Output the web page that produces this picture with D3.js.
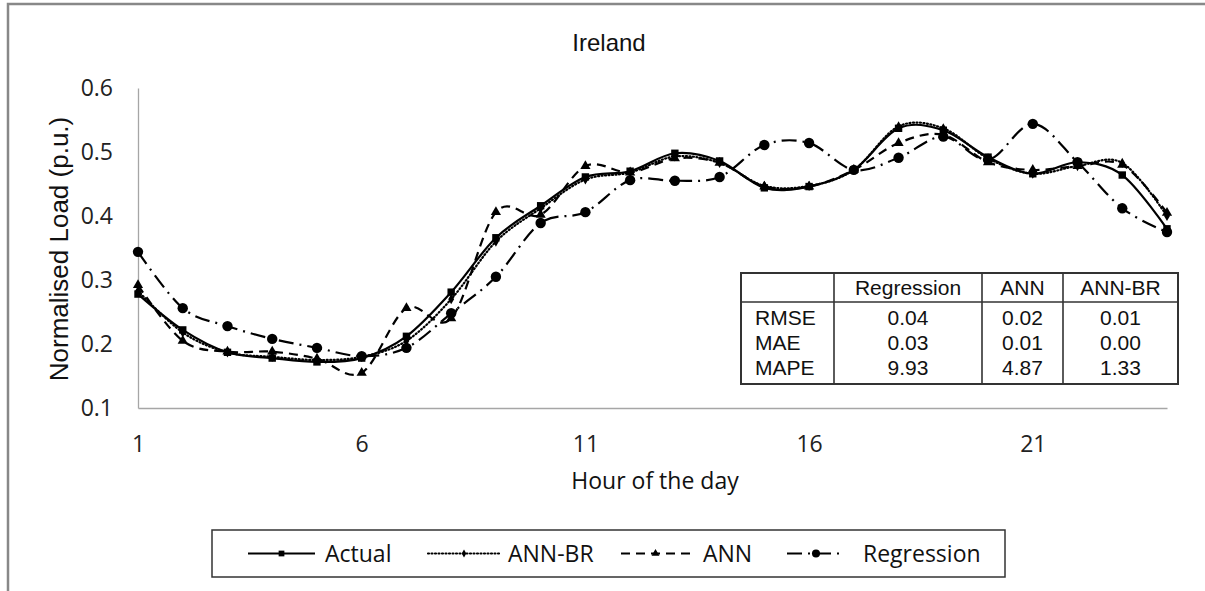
<!DOCTYPE html>
<html>
<head>
<meta charset="utf-8">
<script src="https://cdn.jsdelivr.net/npm/d3@7"></script>
<style>
  html, body { margin: 0; padding: 0; background: #fff; }
  svg { display: block; }
</style>
</head>
<body>
<svg id="chart"></svg>
<script>
// data
const hours = [1, 2, 3, 4, 5, 6, 7, 8, 9, 10, 11, 12, 13, 14, 15, 16, 17, 18, 19, 20, 21, 22, 23, 24];
const actual = [0.278, 0.222, 0.187, 0.178, 0.172, 0.178, 0.212, 0.281, 0.366, 0.416, 0.461, 0.470,
                0.498, 0.486, 0.444, 0.446, 0.472, 0.537, 0.534, 0.492, 0.466, 0.484, 0.464, 0.380];
const annBr = [0.283, 0.218, 0.187, 0.180, 0.175, 0.180, 0.205, 0.270, 0.360, 0.412, 0.457, 0.468,
               0.493, 0.483, 0.447, 0.447, 0.472, 0.540, 0.537, 0.490, 0.466, 0.478, 0.483, 0.400];
const ann = [0.292, 0.205, 0.188, 0.188, 0.177, 0.155, 0.256, 0.240, 0.406, 0.402, 0.478, 0.468,
             0.490, 0.483, 0.446, 0.446, 0.472, 0.514, 0.527, 0.484, 0.472, 0.478, 0.480, 0.405];
const regression = [0.344, 0.256, 0.228, 0.208, 0.194, 0.181, 0.194, 0.248, 0.305, 0.389, 0.406, 0.456,
                    0.455, 0.461, 0.511, 0.514, 0.472, 0.491, 0.524, 0.488, 0.544, 0.484, 0.412, 0.375];

const xTicks = [1, 6, 11, 16, 21];
const yTicks = [0.1, 0.2, 0.3, 0.4, 0.5, 0.6];

const tableCols = ["Regression", "ANN", "ANN-BR"];
const tableRows = ["RMSE", "MAE", "MAPE"];
const tableVals = [["0.04", "0.02", "0.01"],
                   ["0.03", "0.01", "0.00"],
                   ["9.93", "4.87", "1.33"]];

const seriesNames = ["Actual", "ANN-BR", "ANN", "Regression"];

// drawing
const W = 1205, H = 591;
let svg = d3.select("#chart").attr("width", W).attr("height", H);

const tickFont = "'Open Sans', sans-serif";
const arialFont = "'Liberation Sans', Arial, sans-serif";

const x = d3.scaleLinear().domain([1, 24]).range([138, 1167]);
const y = d3.scaleLinear().domain([0.1, 0.6]).range([408, 88]);

// outer frame (only left and top visible)
svg.append("path")
    .attr("d", `M8,${H} V4 H${W}`)
    .attr("fill", "none")
    .attr("stroke", "#888")
    .attr("stroke-width", 2.5);

// title
svg.append("text")
    .attr("x", 609).attr("y", 51)
    .attr("text-anchor", "middle")
    .style("font-family", arialFont)
    .style("font-size", "24px")
    .style("fill", "#111")
    .text("Ireland");

// axes
let yAxis = svg.append("g")
    .attr("transform", "translate(138,0)")
    .call(d3.axisLeft(y).tickValues(yTicks).tickSize(0).tickPadding(25).tickFormat(d3.format(".1f")));
let xAxis = svg.append("g")
    .attr("transform", "translate(0,408)")
    .call(d3.axisBottom(x).tickValues(xTicks).tickSize(0).tickPadding(28).tickFormat(d3.format("d")));

[yAxis, xAxis].forEach((g) => {
    g.select(".domain").attr("stroke", "#a6a6a6").attr("stroke-width", 1.3);
    g.selectAll("text")
        .style("font-family", tickFont)
        .style("font-size", "23px")
        .style("fill", "#222");
});

// axis titles
svg.append("text")
    .attr("transform", "translate(68,249) rotate(-90)")
    .attr("text-anchor", "middle")
    .style("font-family", arialFont)
    .style("font-size", "26px")
    .style("fill", "#111")
    .text("Normalised Load (p.u.)");

svg.append("text")
    .attr("x", 655).attr("y", 489)
    .attr("text-anchor", "middle")
    .style("font-family", tickFont)
    .style("font-size", "23px")
    .style("fill", "#111")
    .text("Hour of the day");

// series styles
const styles = {
    "Actual": { dash: null, width: 2.2, marker: d3.symbolSquare, size: 55, cap: "butt" },
    "ANN-BR": { dash: "1,2.5", width: 2.2, marker: d3.symbolDiamond, size: 30, cap: "round" },
    "ANN": { dash: "9,6", width: 2.2, marker: d3.symbolTriangle, size: 45, cap: "butt" },
    "Regression": { dash: "15,6,2,6", width: 2.2, marker: d3.symbolCircle, size: 85, cap: "butt" }
};
const values = {
    "Actual": actual,
    "ANN-BR": annBr,
    "ANN": ann,
    "Regression": regression
};

const line = d3.line()
    .x((d) => x(d[0]))
    .y((d) => y(d[1]))
    .curve(d3.curveCardinal.tension(0));

let plot = svg.append("g");
seriesNames.slice().reverse().forEach((name) => {
    let st = styles[name];
    let pts = hours.map((h, i) => [h, values[name][i]]);
    plot.append("path")
        .attr("d", line(pts))
        .attr("fill", "none")
        .attr("stroke", "#000")
        .attr("stroke-width", st.width)
        .attr("stroke-linecap", st.cap)
        .attr("stroke-dasharray", st.dash);
    plot.append("g")
        .selectAll("path")
        .data(pts)
        .join("path")
        .attr("transform", (d) => `translate(${x(d[0])},${y(d[1])})`)
        .attr("d", d3.symbol().type(st.marker).size(st.size))
        .attr("fill", "#000");
});

// error table
const tb = { x0: 741, x1: 1178, y0: 273, yh: 302, y1: 384, cols: [834, 982, 1063] };
let table = svg.append("g");
table.append("rect")
    .attr("x", tb.x0).attr("y", tb.y0)
    .attr("width", tb.x1 - tb.x0).attr("height", tb.y1 - tb.y0)
    .attr("fill", "#fff")
    .attr("stroke", "#333")
    .attr("stroke-width", 2);
table.append("line")
    .attr("x1", tb.x0).attr("x2", tb.x1)
    .attr("y1", tb.yh).attr("y2", tb.yh)
    .attr("stroke", "#333").attr("stroke-width", 1.6);
table.selectAll("line.col")
    .data(tb.cols)
    .join("line")
    .attr("class", "col")
    .attr("x1", (d) => d).attr("x2", (d) => d)
    .attr("y1", tb.y0).attr("y2", tb.y1)
    .attr("stroke", "#333").attr("stroke-width", 1.6);

const colEdges = tb.cols.concat([tb.x1]);
const colCenter = (i) => (colEdges[i] + colEdges[i + 1]) / 2;
const rowY = [317, 342, 367];

table.selectAll("text.head")
    .data(tableCols)
    .join("text")
    .attr("class", "head")
    .attr("x", (d, i) => colCenter(i))
    .attr("y", 295)
    .attr("text-anchor", "middle")
    .style("font-family", arialFont)
    .style("font-size", "21px")
    .style("fill", "#111")
    .text((d) => d);

tableRows.forEach((r, ri) => {
    table.append("text")
        .attr("x", 755).attr("y", rowY[ri] + 8)
        .style("font-family", arialFont)
        .style("font-size", "21px")
        .style("fill", "#111")
        .text(r);
    table.selectAll(null)
        .data(tableVals[ri])
        .join("text")
        .attr("x", (d, i) => colCenter(i))
        .attr("y", rowY[ri] + 8)
        .attr("text-anchor", "middle")
        .style("font-family", arialFont)
        .style("font-size", "21px")
        .style("fill", "#111")
        .text((d) => d);
});

// legend
const legendBox = { x: 212, y: 530, w: 793, h: 47 };
const legendLayout = [
    { x1: 248, x2: 315, tx: 325 },
    { x1: 428, x2: 500, tx: 508 },
    { x1: 621, x2: 690, tx: 703 },
    { x1: 787, x2: 845, tx: 863 }
];
let legend = svg.append("g");
legend.append("rect")
    .attr("x", legendBox.x).attr("y", legendBox.y)
    .attr("width", legendBox.w).attr("height", legendBox.h)
    .attr("fill", "#fff")
    .attr("stroke", "#333")
    .attr("stroke-width", 1.5);

seriesNames.forEach((name, i) => {
    let st = styles[name];
    let lay = legendLayout[i];
    let ly = legendBox.y + legendBox.h / 2;
    legend.append("line")
        .attr("x1", lay.x1).attr("x2", lay.x2)
        .attr("y1", ly).attr("y2", ly)
        .attr("stroke", "#000")
        .attr("stroke-width", st.width)
        .attr("stroke-linecap", st.cap)
        .attr("stroke-dasharray", st.dash);
    legend.append("path")
        .attr("transform", `translate(${(lay.x1 + lay.x2) / 2},${ly})`)
        .attr("d", d3.symbol().type(st.marker).size(st.size * 0.6))
        .attr("fill", "#000");
    legend.append("text")
        .attr("x", lay.tx).attr("y", ly + 8)
        .style("font-family", tickFont)
        .style("font-size", "23px")
        .style("fill", "#111")
        .text(name);
});
</script>
</body>
</html>
